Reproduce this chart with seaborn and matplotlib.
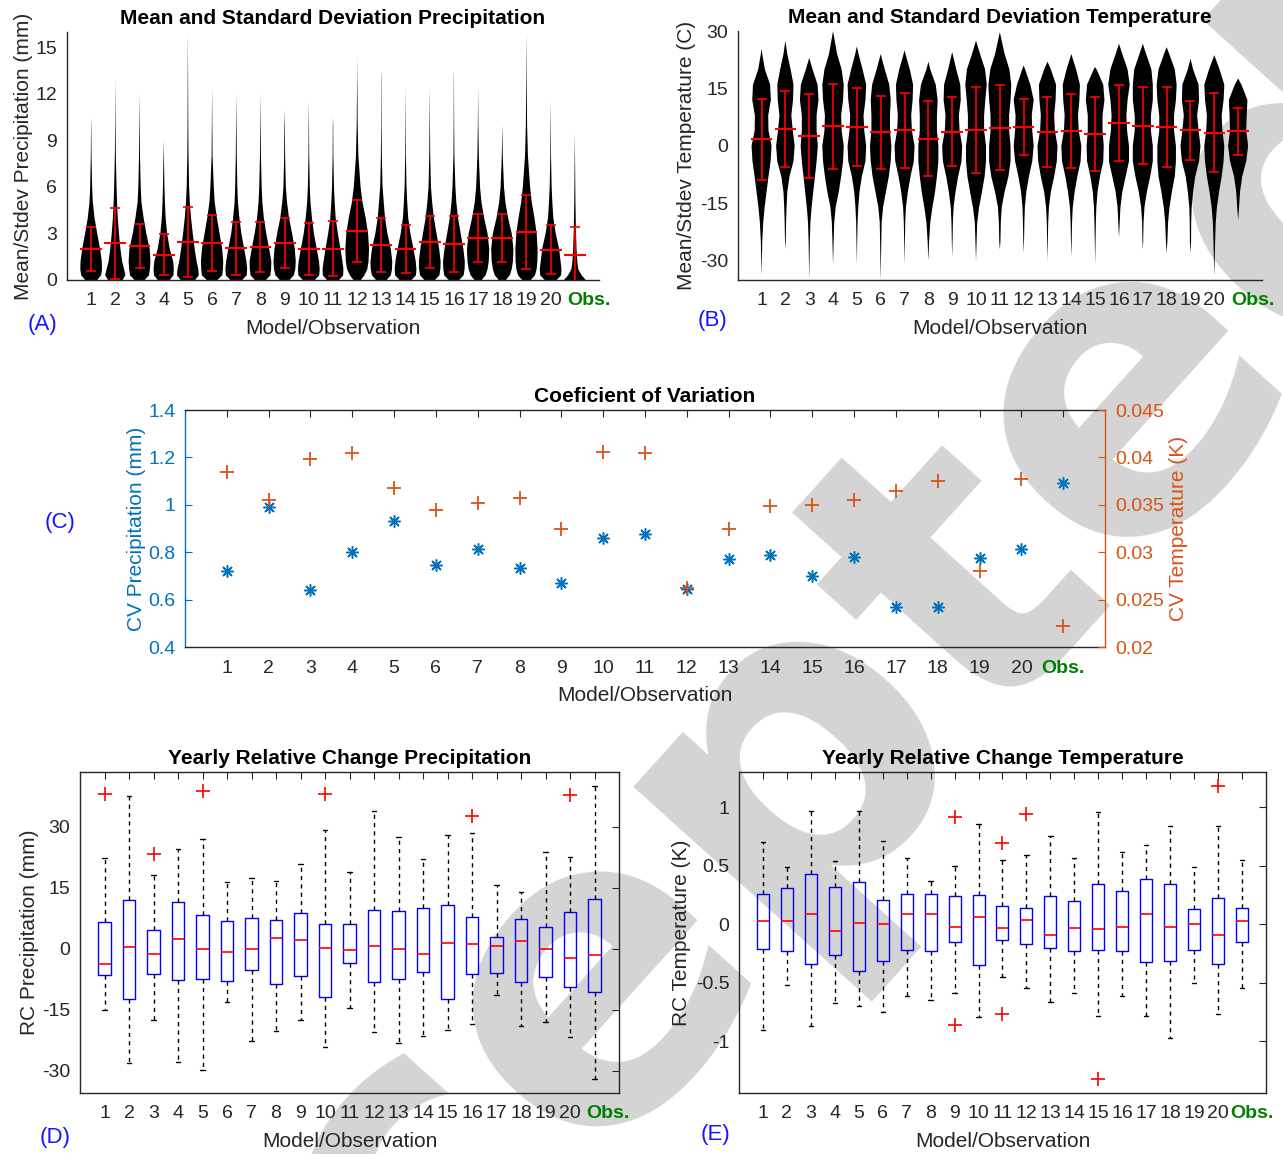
import numpy as np
import pandas as pd
import matplotlib
matplotlib.use("Agg")
import matplotlib.pyplot as plt
import matplotlib.transforms as mtransforms
import seaborn as sns

# ------------------------------------------------------------------ data
tick_labels = ["1", "2", "3", "4", "5", "6", "7", "8", "9", "10", "11", "12", "13",
               "14", "15", "16", "17", "18", "19", "20", "Obs."]

# (A) precipitation: mean and standard deviation
precip_mean = [2.0, 2.37, 2.2, 1.63, 2.43, 2.41, 2.04, 2.13, 2.39, 2.0, 2.02,
               3.14, 2.26, 1.98, 2.43, 2.3, 2.69, 2.69, 3.1, 1.96, 1.63]
precip_std = [1.4, 2.3, 1.42, 1.32, 2.27, 1.8, 1.7, 1.6, 1.6, 1.7, 1.76,
              2.0, 1.74, 1.56, 1.69, 1.8, 1.54, 1.55, 2.37, 1.6, 1.79]
# violin outline: half widths read at these precipitation levels
precip_levels = [0, 0.3, 0.7, 1.2, 2, 3, 4, 5, 6, 8, 10, 13]
precip_top = [10.5, 13, 12, 9, 16, 12.5, 12, 12, 11, 11.5, 10.5,
              14.5, 13.5, 12.5, 12.5, 13.5, 12.5, 10, 16, 11.5, 9.5]
precip_halfwidth = [
    [0.25, 0.41, 0.45, 0.44, 0.37, 0.25, 0.14, 0.07, 0.04, 0.015, 0.005, 0],
    [0.30, 0.42, 0.36, 0.28, 0.21, 0.15, 0.10, 0.07, 0.05, 0.02, 0.01, 0],
    [0.21, 0.39, 0.43, 0.45, 0.42, 0.28, 0.17, 0.08, 0.05, 0.02, 0.01, 0],
    [0.25, 0.40, 0.42, 0.39, 0.25, 0.14, 0.08, 0.05, 0.03, 0.01, 0, 0],
    [0.30, 0.45, 0.43, 0.36, 0.28, 0.20, 0.13, 0.08, 0.05, 0.025, 0.015, 0.008],
    [0.22, 0.42, 0.45, 0.46, 0.42, 0.31, 0.20, 0.11, 0.07, 0.02, 0.01, 0],
    [0.25, 0.43, 0.45, 0.42, 0.33, 0.21, 0.13, 0.07, 0.045, 0.02, 0.01, 0],
    [0.23, 0.41, 0.44, 0.45, 0.36, 0.24, 0.14, 0.08, 0.05, 0.02, 0.01, 0],
    [0.20, 0.38, 0.44, 0.46, 0.42, 0.31, 0.18, 0.10, 0.05, 0.02, 0.01, 0],
    [0.25, 0.43, 0.45, 0.42, 0.33, 0.21, 0.13, 0.07, 0.04, 0.015, 0.008, 0],
    [0.25, 0.42, 0.43, 0.39, 0.31, 0.20, 0.11, 0.07, 0.04, 0.015, 0.008, 0],
    [0.15, 0.30, 0.42, 0.47, 0.49, 0.45, 0.35, 0.22, 0.14, 0.05, 0.02, 0.005],
    [0.22, 0.39, 0.44, 0.45, 0.39, 0.25, 0.15, 0.10, 0.05, 0.02, 0.01, 0.005],
    [0.25, 0.43, 0.45, 0.42, 0.33, 0.20, 0.11, 0.07, 0.04, 0.015, 0.008, 0],
    [0.22, 0.40, 0.44, 0.45, 0.39, 0.28, 0.17, 0.10, 0.05, 0.02, 0.01, 0],
    [0.22, 0.40, 0.44, 0.45, 0.39, 0.28, 0.17, 0.10, 0.06, 0.02, 0.01, 0.004],
    [0.15, 0.31, 0.39, 0.44, 0.46, 0.39, 0.25, 0.14, 0.08, 0.03, 0.01, 0],
    [0.15, 0.31, 0.39, 0.44, 0.46, 0.39, 0.24, 0.13, 0.07, 0.02, 0.008, 0],
    [0.18, 0.35, 0.42, 0.45, 0.46, 0.42, 0.33, 0.22, 0.15, 0.06, 0.025, 0.01],
    [0.25, 0.43, 0.45, 0.41, 0.35, 0.21, 0.11, 0.07, 0.04, 0.015, 0.007, 0],
    [0.45, 0.28, 0.14, 0.10, 0.07, 0.05, 0.035, 0.025, 0.018, 0.008, 0, 0],
]

# (B) temperature: mean and standard deviation
temp_mean = [1.74, 4.35, 2.6, 5.1, 4.96, 3.57, 4.1, 1.9, 3.65, 4.26, 4.8,
             4.96, 3.65, 3.83, 3.13, 6.0, 5.3, 4.87, 4.1, 3.48, 3.83]
temp_std = [10.6, 9.9, 10.9, 11.2, 10.2, 9.5, 9.75, 9.8, 9.0, 11.2, 11.2,
            7.3, 9.05, 9.7, 9.7, 9.9, 10.1, 10.5, 7.7, 10.4, 6.15]
temp_levels = [24, 20, 16, 12, 8, 4, 0, -4, -8, -12, -16, -20, -25]
temp_top = [25.4, 27.5, 23, 30, 26, 24, 25, 22, 24.5, 27.5, 29.7,
            21, 22, 24, 20.6, 26.7, 26.7, 25.8, 22.8, 23.7, 17.6]
temp_bottom = [-34, -27, -35, -31, -31, -35, -31, -30, -29, -30, -27,
               -28, -30, -29, -31, -24, -27, -28, -28, -34, -19.4]
temp_halfwidth = [
    [0.03, 0.14, 0.36, 0.39, 0.28, 0.29, 0.42, 0.38, 0.29, 0.21, 0.13, 0.07, 0.03],
    [0.08, 0.22, 0.34, 0.32, 0.25, 0.31, 0.39, 0.34, 0.17, 0.08, 0.05, 0.03, 0.015],
    [0.00, 0.14, 0.35, 0.39, 0.31, 0.31, 0.36, 0.31, 0.24, 0.17, 0.10, 0.05, 0.025],
    [0.17, 0.36, 0.45, 0.42, 0.34, 0.36, 0.45, 0.42, 0.34, 0.24, 0.11, 0.05, 0.025],
    [0.07, 0.24, 0.39, 0.36, 0.28, 0.31, 0.39, 0.36, 0.21, 0.11, 0.06, 0.03, 0.015],
    [0.00, 0.17, 0.36, 0.42, 0.39, 0.39, 0.45, 0.42, 0.34, 0.22, 0.10, 0.04, 0.025],
    [0.04, 0.22, 0.36, 0.34, 0.28, 0.31, 0.42, 0.39, 0.25, 0.14, 0.06, 0.03, 0.015],
    [0.00, 0.08, 0.31, 0.39, 0.36, 0.36, 0.42, 0.42, 0.36, 0.28, 0.17, 0.08, 0.03],
    [0.02, 0.17, 0.34, 0.36, 0.28, 0.31, 0.42, 0.39, 0.25, 0.14, 0.06, 0.03, 0.015],
    [0.17, 0.38, 0.45, 0.39, 0.34, 0.34, 0.42, 0.42, 0.36, 0.25, 0.13, 0.05, 0.025],
    [0.20, 0.40, 0.48, 0.45, 0.39, 0.39, 0.45, 0.45, 0.36, 0.20, 0.08, 0.04, 0.025],
    [0.00, 0.06, 0.28, 0.42, 0.34, 0.36, 0.42, 0.36, 0.22, 0.11, 0.05, 0.03, 0.015],
    [0.00, 0.14, 0.36, 0.34, 0.28, 0.31, 0.42, 0.39, 0.28, 0.14, 0.06, 0.03, 0.015],
    [0.00, 0.20, 0.36, 0.34, 0.28, 0.31, 0.42, 0.39, 0.25, 0.14, 0.06, 0.03, 0.015],
    [0.00, 0.06, 0.34, 0.39, 0.31, 0.31, 0.36, 0.34, 0.20, 0.10, 0.05, 0.03, 0.015],
    [0.14, 0.36, 0.45, 0.36, 0.31, 0.34, 0.42, 0.42, 0.28, 0.14, 0.06, 0.03, 0.015],
    [0.14, 0.36, 0.42, 0.42, 0.34, 0.34, 0.42, 0.42, 0.31, 0.17, 0.07, 0.03, 0.015],
    [0.11, 0.34, 0.42, 0.39, 0.31, 0.31, 0.39, 0.39, 0.34, 0.22, 0.12, 0.06, 0.03],
    [0.00, 0.11, 0.34, 0.36, 0.28, 0.34, 0.42, 0.36, 0.20, 0.11, 0.05, 0.03, 0.025],
    [0.00, 0.22, 0.42, 0.39, 0.31, 0.34, 0.42, 0.39, 0.31, 0.20, 0.11, 0.06, 0.035],
    [0.00, 0.00, 0.14, 0.39, 0.36, 0.34, 0.42, 0.34, 0.17, 0.08, 0.04, 0.015, 0.00],
]

# (C) coefficient of variation
cv_precip = [0.72, 0.99, 0.64, 0.80, 0.93, 0.745, 0.815, 0.735, 0.67, 0.86, 0.875,
             0.645, 0.77, 0.79, 0.70, 0.78, 0.57, 0.57, 0.775, 0.815, 1.09]
cv_temp = [0.0385, 0.0355, 0.0398, 0.0405, 0.0368, 0.0345, 0.0352, 0.0357, 0.0325,
           0.0406, 0.0405, 0.0262, 0.0325, 0.0349, 0.0350, 0.0355, 0.0365, 0.0375,
           0.0280, 0.0377, 0.0222]

# (D) yearly relative change precipitation: box-plot statistics
rcp_q1 = [-6.3, -12.3, -6.1, -7.6, -7.5, -7.8, -5.2, -8.7, -6.6, -11.7, -3.5,
          -8.2, -7.5, -5.7, -12.3, -6.2, -5.8, -8.1, -6.9, -9.3, -10.6]
rcp_med = [-3.6, 0.6, -1.2, 2.5, -0.1, -0.8, 0.1, 2.7, 2.2, 0.3, -0.3,
           0.7, 0.1, -1.2, 1.5, 1.1, 0.8, 1.9, 0.1, -2.3, -1.6]
rcp_q3 = [6.6, 12.1, 4.7, 11.6, 8.4, 6.8, 7.5, 7.2, 8.9, 6.1, 6.1,
          9.6, 9.3, 10.0, 10.7, 7.9, 3.0, 7.3, 5.5, 9.0, 12.4]
rcp_lo = [-15.1, -28.0, -17.4, -27.8, -29.8, -13.0, -22.7, -20.1, -17.4, -24.0, -14.6,
          -20.4, -23.1, -21.3, -19.9, -18.5, -11.3, -18.9, -18.0, -21.6, -31.9]
rcp_hi = [22.3, 37.5, 18.1, 24.6, 27.0, 16.5, 17.4, 16.7, 21.0, 29.3, 18.9,
          33.8, 27.5, 22.1, 27.9, 28.4, 15.7, 14.1, 23.9, 22.6, 40.0]
rcp_out = [[38.2], [], [23.4], [], [38.8], [], [], [], [], [38.2], [],
           [], [], [], [], [32.7], [], [], [], [37.8], []]

# (E) yearly relative change temperature: box-plot statistics
rct_q1 = [-0.21, -0.23, -0.34, -0.26, -0.40, -0.31, -0.22, -0.23, -0.15, -0.35, -0.13,
          -0.17, -0.20, -0.225, -0.22, -0.23, -0.32, -0.31, -0.22, -0.34, -0.15]
rct_med = [0.03, 0.03, 0.09, -0.06, 0.01, 0.0, 0.085, 0.09, -0.02, 0.065, -0.03,
           0.04, -0.09, -0.03, -0.04, -0.02, 0.09, -0.02, 0.0, -0.09, 0.025]
rct_q3 = [0.26, 0.31, 0.43, 0.32, 0.36, 0.21, 0.26, 0.26, 0.24, 0.25, 0.16,
          0.14, 0.245, 0.20, 0.34, 0.28, 0.39, 0.34, 0.13, 0.225, 0.14]
rct_lo = [-0.90, -0.52, -0.87, -0.67, -0.70, -0.75, -0.61, -0.65, -0.59, -0.79, -0.45,
          -0.54, -0.66, -0.59, -0.78, -0.61, -0.78, -0.97, -0.50, -0.77, -0.54]
rct_hi = [0.70, 0.49, 0.97, 0.54, 0.97, 0.71, 0.57, 0.37, 0.50, 0.855, 0.55,
          0.59, 0.75, 0.57, 0.955, 0.62, 0.68, 0.84, 0.49, 0.835, 0.545]
rct_out = [[], [], [], [], [], [], [], [], [0.92, -0.86], [], [0.69, -0.77],
           [0.94], [], [], [-1.32], [], [], [], [], [1.18], []]

# ------------------------------------------------------------------ style
sns.set_theme(style="white")
plt.rcParams["font.family"] = ["Liberation Sans", "DejaVu Sans"]
plt.rcParams["axes.facecolor"] = "none"
plt.rcParams["axes.unicode_minus"] = False

TXT = "#262626"
BLUE_C = "#0072BD"
ORANGE_C = "#D95319"
GREEN = "#008000"
LBL_BLUE = "#1515FF"
FS_TICK = 14
FS_LAB = 15
FS_TITLE = 15

fig = plt.figure(figsize=(12.83, 11.54), dpi=100)
fig.patch.set_facecolor("white")

positions = list(range(1, len(tick_labels) + 1))
df_cv = pd.DataFrame({"pos": positions, "cv_p": cv_precip, "cv_t": cv_temp})

# watermark, behind everything
fig.text(0.537, 0.224, "Accepted", rotation=48, fontsize=305, color="#d4d4d4",
         fontweight="bold", ha="center", va="center", zorder=-10,
         family="DejaVu Sans")


def common_x(ax, box, obs_shift_px, xlabelpad=7):
    ax.set_xlim(0, 22)
    ax.set_xticks(positions)
    ax.set_xticklabels(tick_labels)
    for sp in ax.spines.values():
        sp.set_color(TXT)
        sp.set_linewidth(1.0)
    if not box:
        ax.spines["top"].set_visible(False)
        ax.spines["right"].set_visible(False)
    ax.tick_params(axis="both", direction="in", length=5, width=0.8,
                   colors=TXT, labelsize=FS_TICK, pad=7,
                   top=box, right=box)
    ax.tick_params(axis="x", pad=9)
    lab = ax.get_xticklabels()[-1]
    lab.set_color(GREEN)
    lab.set_fontweight("bold")
    if obs_shift_px:
        lab.set_transform(lab.get_transform() + mtransforms.ScaledTranslation(
            obs_shift_px / 100.0, 0, fig.dpi_scale_trans))
    ax.set_xlabel("Model/Observation", fontsize=FS_LAB, color=TXT, labelpad=xlabelpad)


def draw_violins(ax, stats, color="black"):
    widths = [2 * max(s["vals"]) for s in stats]
    parts = ax.violin(stats, positions=positions, widths=widths,
                      showmeans=False, showextrema=False, showmedians=False)
    for body in parts["bodies"]:
        body.set_facecolor(color)
        body.set_edgecolor("none")
        body.set_linewidth(0)
        body.set_alpha(1)


def mean_std(ax, means, stds):
    ax.errorbar(positions, means, yerr=stds, fmt="none", ecolor="red",
                elinewidth=1.2, capsize=3.8, capthick=1.2, zorder=4)
    xs = np.array(positions)
    ax.hlines(means, xs - 0.45, xs + 0.45, colors="red", linewidth=1.5, zorder=4)


# ---------------- (A)
axA = fig.add_axes([0.0522, 0.7574, 0.4147, 0.2149])
statsA = []
for i in range(len(tick_labels)):
    top = precip_top[i]
    coords = [l for l in precip_levels if l < top] + [top]
    vals = precip_halfwidth[i][:len(coords) - 1] + [0.0]
    statsA.append({"coords": np.array(coords, float), "vals": np.array(vals, float),
                   "mean": precip_mean[i], "median": precip_mean[i],
                   "min": coords[0], "max": coords[-1]})
draw_violins(axA, statsA)
mean_std(axA, precip_mean, precip_std)
axA.set_ylim(0, 16)
axA.set_yticks([0, 3, 6, 9, 12, 15])
common_x(axA, box=False, obs_shift_px=14)
axA.set_ylabel("Mean/Stdev Precipitation (mm)", fontsize=FS_LAB, color=TXT, labelpad=1.5)
axA.set_title("Mean and Standard Deviation Precipitation", fontsize=FS_TITLE,
              fontweight="bold", color="black", pad=6)

# ---------------- (B)
axB = fig.add_axes([0.575, 0.7574, 0.4086, 0.2157])
statsB = []
for i in range(len(tick_labels)):
    top, bot = temp_top[i], temp_bottom[i]
    inner = [(l, w) for l, w in zip(temp_levels, temp_halfwidth[i]) if bot < l < top]
    coords = [top] + [l for l, _ in inner] + [bot]
    vals = [0.0] + [w for _, w in inner] + [0.0]
    statsB.append({"coords": np.array(coords, float), "vals": np.array(vals, float),
                   "mean": temp_mean[i], "median": temp_mean[i],
                   "min": bot, "max": top})
draw_violins(axB, statsB)
mean_std(axB, temp_mean, temp_std)
axB.set_ylim(-35, 30)
axB.set_yticks([-30, -15, 0, 15, 30])
common_x(axB, box=False, obs_shift_px=15)
axB.set_ylabel("Mean/Stdev Temperature (C)", fontsize=FS_LAB, color=TXT, labelpad=3)
axB.set_title("Mean and Standard Deviation Temperature", fontsize=FS_TITLE,
              fontweight="bold", color="black", pad=6)

# ---------------- (C)
axC = fig.add_axes([0.1442, 0.4393, 0.7171, 0.2054])
sns.scatterplot(data=df_cv, x="pos", y="cv_p", marker=(8, 2, 0), s=70,
                color=BLUE_C, edgecolor=BLUE_C, linewidth=1.1, ax=axC, zorder=3)
axC.set_ylim(0.4, 1.4)
axC.set_yticks([0.4, 0.6, 0.8, 1.0, 1.2, 1.4])
axC.set_yticklabels(["0.4", "0.6", "0.8", "1", "1.2", "1.4"])
common_x(axC, box=True, obs_shift_px=0)
axC.tick_params(axis="y", right=False, colors=BLUE_C)
axC.spines["left"].set_color(BLUE_C)
axC.spines["right"].set_visible(False)
axC.set_ylabel("CV Precipitation (mm)", fontsize=FS_LAB, color=BLUE_C, labelpad=1.5)
axC.set_title("Coeficient of Variation", fontsize=FS_TITLE, fontweight="bold",
              color="black", pad=6)

axC2 = axC.twinx()
sns.scatterplot(data=df_cv, x="pos", y="cv_t", marker="+", s=95,
                color=ORANGE_C, linewidth=1.3, ax=axC2, zorder=3)
axC2.set_ylim(0.02, 0.045)
axC2.set_yticks([0.02, 0.025, 0.03, 0.035, 0.04, 0.045])
axC2.set_yticklabels(["0.02", "0.025", "0.03", "0.035", "0.04", "0.045"])
axC2.set_xlim(0, 22)
for name, sp in axC2.spines.items():
    sp.set_visible(name == "right")
axC2.spines["right"].set_color(ORANGE_C)
axC2.spines["right"].set_linewidth(1.0)
axC2.tick_params(axis="y", direction="in", length=5, width=0.8, colors=ORANGE_C,
                 labelsize=FS_TICK, pad=7)
axC2.set_ylabel("CV Temperature (K)", fontsize=FS_LAB, color=ORANGE_C, labelpad=4)
axC.set_xlabel("Model/Observation", fontsize=FS_LAB, color=TXT, labelpad=7)


# ---------------- (D) and (E) box plots
def draw_boxes(ax, q1, med, q3, lo, hi, outl):
    stats = []
    for i in range(len(tick_labels)):
        stats.append({"q1": q1[i], "med": med[i], "q3": q3[i], "whislo": lo[i],
                      "whishi": hi[i], "fliers": np.array(outl[i], float),
                      "label": tick_labels[i]})
    ax.bxp(stats, positions=positions, widths=0.5, capwidths=0.18,
           showfliers=True, manage_ticks=False,
           boxprops=dict(color="#0000FF", linewidth=1.0),
           medianprops=dict(color="#FF0000", linewidth=1.2),
           whiskerprops=dict(color="black", linestyle=(0, (3, 3)), linewidth=1.0),
           capprops=dict(color="black", linewidth=1.0),
           flierprops=dict(marker="+", markeredgecolor="#FF0000", markersize=10,
                           markeredgewidth=1.2, linestyle="none"))


axD = fig.add_axes([0.0624, 0.0529, 0.4201, 0.2781])
draw_boxes(axD, rcp_q1, rcp_med, rcp_q3, rcp_lo, rcp_hi, rcp_out)
axD.set_ylim(-35.4, 43.5)
axD.set_yticks([-30, -15, 0, 15, 30])
common_x(axD, box=True, obs_shift_px=13)
axD.set_ylabel("RC Precipitation (mm)", fontsize=FS_LAB, color=TXT, labelpad=2.5)
axD.set_title("Yearly Relative Change Precipitation", fontsize=FS_TITLE,
              fontweight="bold", color="black", pad=6)

axE = fig.add_axes([0.576, 0.0529, 0.4107, 0.2781])
draw_boxes(axE, rct_q1, rct_med, rct_q3, rct_lo, rct_hi, rct_out)
axE.set_ylim(-1.44, 1.30)
axE.set_yticks([-1, -0.5, 0, 0.5, 1])
axE.set_yticklabels(["-1", "-0.5", "0", "0.5", "1"])
common_x(axE, box=True, obs_shift_px=10)
axE.set_ylabel("RC Temperature (K)", fontsize=FS_LAB, color=TXT, labelpad=3)
axE.set_title("Yearly Relative Change Temperature", fontsize=FS_TITLE,
              fontweight="bold", color="black", pad=6)

# panel letters
for txt, x, y in [("(A)", 0.0335, 0.7184), ("(B)", 0.5557, 0.7227),
                  ("(C)", 0.0468, 0.5468), ("(D)", 0.0429, 0.0139),
                  ("(E)", 0.558, 0.0165)]:
    fig.text(x, y, txt, color=LBL_BLUE, fontsize=16, ha="center", va="center")

fig.savefig("out.png", dpi=100, facecolor="white")
